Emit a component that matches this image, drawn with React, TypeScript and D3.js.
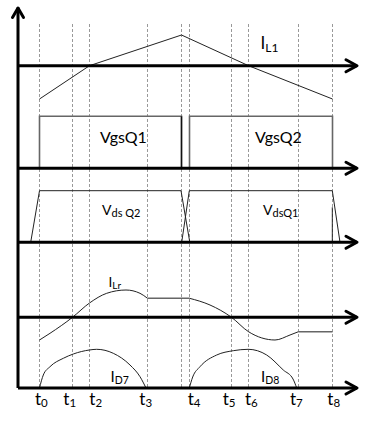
import React from 'react';
import * as d3 from 'd3';

const W = 388;
const H = 433;

// time instants along the horizontal axis (units ~ px from y-axis)
const timeMarks = [21.5, 54.5, 71.5, 129.5, 163.5, 171.5, 213.5, 230.5, 280.5, 314.5];
const tickSubs = ['0', '1', '2', '3', '4', '5', '6', '7', '8'];
const tickLabelAt = [17, 45.3, 71.3, 121.3, 169.7, 204.7, 227, 272, 309.3];

// IL1 (triangular)
const il1T = [21.5, 71.5, 163.5, 230.5, 314.5];
const il1V = [-33.3, 0, 30.7, 0, -33.3];

// gate drives
const vgsQ1T = [21.5, 21.5, 163.5, 163.5];
const vgsQ2T = [171.5, 171.5, 314.5, 314.5];
const vgsV = [0, 52, 52, 0];

// drain-source voltages
const vdsQ2T = [12.7, 21.5, 163, 171.8];
const vdsQ1T = [163.7, 171.3, 314.3, 322];
const vdsV = [0, 51.6, 51.6, 0];
const vdsSpikeT = [314.3, 314.3];
const vdsSpikeV = [0, 35];

// resonant current ILr
const ilrAT = [21.5, 32, 54.5, 71.5, 88.7, 108, 122, 129.5];
const ilrAV = [-22.7, -16, 0, 14.3, 24, 27.3, 24, 19];
const ilrBT = [129.5, 171.5];
const ilrBV = [19, 19];
const ilrCT = [171.5, 192, 213.5, 230.5, 257, 272, 280.5];
const ilrCV = [19, 12.3, 0, -14.4, -22.7, -17.7, -14.4];
const ilrDT = [280.5, 314.5];
const ilrDV = [-14.4, -14.4];

// diode currents
const id7T = [21.5, 25.3, 32, 45.3, 55.3, 71.3, 78.7, 95.3, 112, 122, 128];
const id7V = [0, 13, 21.3, 29.7, 34, 38, 38.7, 34.7, 23, 11.3, 0];
const id8T = [171.3, 174.7, 182, 198.7, 215.3, 230.3, 248.7, 265.3, 275, 278.7];
const id8V = [0, 11, 21.3, 33, 37.3, 38.7, 33, 18, 9, 0];

const panelBase = [65.7, 168.3, 242.3, 317.3, 388];

const x = d3.scaleLinear().domain([0, 340]).range([18, 358]);
const yFor = (i: number) => d3.scaleLinear().domain([0, 100]).range([panelBase[i], panelBase[i] - 100]);

const zip = (t: number[], v: number[]) => t.map((tt, i) => [tt, v[i]] as [number, number]);

function path(i: number, t: number[], v: number[], curve: any = d3.curveLinear) {
  const y = yFor(i);
  return d3.line<[number, number]>().x(d => x(d[0])).y(d => y(d[1])).curve(curve)(zip(t, v)) || '';
}

const Label = ({ x: lx, y: ly, main, sub, size, subSize, dy }: any) => (
  <text x={lx} y={ly} fontSize={size} fontFamily="Lato, 'Open Sans', sans-serif" fill="#000">
    {main}
    {sub ? <tspan fontSize={subSize} dy={dy}>{sub}</tspan> : null}
  </text>
);

export default function App() {
  const axisX0 = x(0);
  const axisX1 = x(340);
  const wave = { fill: 'none', stroke: '#222', strokeWidth: 1 } as const;
  const gray = { fill: 'none', stroke: '#666', strokeWidth: 1.6 } as const;
  return (
    <svg width={W} height={H} style={{ position: 'absolute', left: 0, top: 0, background: '#fff' }}>
      {/* dashed time markers */}
      {timeMarks.map((t, i) => (
        <line key={i} x1={x(t)} x2={x(t)} y1={24} y2={panelBase[4]} stroke="#999" strokeWidth={1} strokeDasharray="3,2" />
      ))}

      {/* IL1 */}
      <path d={path(0, il1T, il1V)} {...wave} />

      {/* Vgs */}
      <path d={path(1, vgsQ1T, vgsV)} {...gray} />
      <line x1={x(vgsQ1T[3])} x2={x(vgsQ1T[3])} y1={yFor(1)(vgsV[1])} y2={panelBase[1]} stroke="#111" strokeWidth={1.4} />
      <path d={path(1, vgsQ2T, vgsV)} {...gray} />

      {/* Vds */}
      <path d={path(2, vdsQ2T, vdsV)} {...wave} />
      <path d={path(2, vdsQ1T, vdsV)} {...wave} />
      <path d={path(2, vdsSpikeT, vdsSpikeV)} {...wave} />

      {/* ILr */}
      <path d={path(3, ilrAT, ilrAV, d3.curveMonotoneX)} {...wave} />
      <path d={path(3, ilrBT, ilrBV)} {...gray} />
      <path d={path(3, ilrCT, ilrCV, d3.curveMonotoneX)} {...wave} />
      <path d={path(3, ilrDT, ilrDV)} {...gray} />

      {/* diode currents */}
      <path d={path(4, id7T, id7V, d3.curveMonotoneX)} {...wave} />
      <path d={path(4, id8T, id8V, d3.curveMonotoneX)} {...wave} />

      {/* axes */}
      <line x1={axisX0} x2={axisX0} y1={7.5} y2={panelBase[4]} stroke="#000" strokeWidth={3} />
      <polyline points={`${axisX0 - 5.5},17.5 ${axisX0},8 ${axisX0 + 5.5},17.5`} fill="none" stroke="#000" strokeWidth={3} strokeLinecap="round" strokeLinejoin="round" />
      {panelBase.map((b, i) => (
        <g key={i}>
          <line x1={axisX0} x2={axisX1 - 1} y1={b} y2={b} stroke="#000" strokeWidth={3} />
          <polyline points={`${axisX1 - 12},${b - 6} ${axisX1 - 1},${b} ${axisX1 - 12},${b + 6}`} fill="none" stroke="#000" strokeWidth={3} strokeLinecap="round" strokeLinejoin="round" />
        </g>
      ))}

      {/* labels */}
      <Label x={260.5} y={49} main="I" sub="L1" size={17} subSize={12} dy={3} />
      <Label x={100} y={143.3} main="VgsQ1" size={16} />
      <Label x={255} y={143.3} main="VgsQ2" size={16} />
      <Label x={102} y={215} main="V" sub="ds Q2" size={14} subSize={11} dy={1.5} />
      <Label x={263} y={215} main="V" sub="dsQ1" size={14} subSize={11} dy={1.5} />
      <Label x={108.5} y={286.5} main="I" sub="Lr" size={13.5} subSize={10} dy={2} />
      <Label x={110.5} y={382.3} main="I" sub="D7" size={15} subSize={10.5} dy={1.5} />
      <Label x={261} y={382.3} main="I" sub="D8" size={15} subSize={10.5} dy={1.5} />
      {tickSubs.map((s, i) => (
        <Label key={i} x={x(tickLabelAt[i])} y={404.5} main="t" sub={s} size={17} subSize={11.5} dy={2.5} />
      ))}
    </svg>
  );
}
